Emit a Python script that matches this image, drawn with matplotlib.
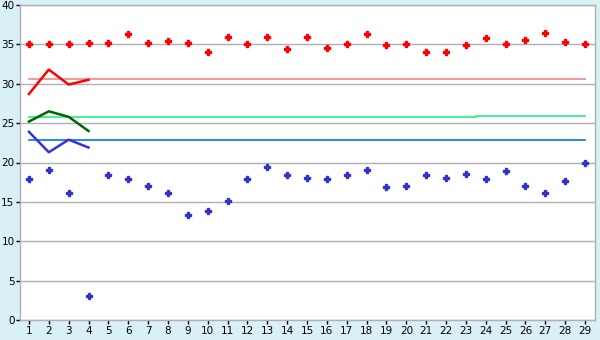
import numpy as np
import matplotlib
matplotlib.use('Agg')
import matplotlib.pyplot as plt

# Tage 1..29
days = list(range(1, 30))

# obere Punktreihe (rot)
red_points = [35.0, 35.0, 35.1, 35.2, 35.2, 36.3, 35.2, 35.4, 35.2, 34.0,
              36.0, 35.0, 36.0, 34.4, 36.0, 34.6, 35.0, 36.3, 34.9, 35.0,
              34.0, 34.0, 34.9, 35.8, 35.1, 35.5, 36.4, 35.3, 35.0]

# untere Punktreihe (blau)
blue_points = [17.9, 19.0, 16.1, 3.0, 18.4, 17.9, 17.0, 16.1, 13.3, 13.9,
               15.1, 17.9, 19.4, 18.4, 18.0, 17.9, 18.4, 19.0, 16.9, 17.0,
               18.4, 18.0, 18.5, 17.9, 18.9, 17.0, 16.1, 17.7, 20.0]

# kurze Linien über die ersten 4 Tage
line_days = [1, 2, 3, 4]
red_line = [28.7, 31.8, 29.9, 30.5]
green_line = [25.2, 26.5, 25.8, 24.0]
blue_line = [23.9, 21.3, 22.9, 21.9]

# waagrechte Referenzlinien
ref_red_x = [1, 29]
ref_red_y = [30.6, 30.6]
ref_green_x = [1, 23.5, 23.5, 29]
ref_green_y = [25.75, 25.75, 25.9, 25.9]
ref_blue_x = [1, 29]
ref_blue_y = [22.8, 22.8]

bg = '#d8f0f6'
grid_col = '#b0b0b0'

fig = plt.figure(figsize=(6, 3.4), dpi=100, facecolor=bg)
ax = fig.add_axes([20 / 600, 20 / 340, 575 / 600, 315 / 340])
ax.set_facecolor('white')

for v in range(0, 41, 5):
    ax.axhline(v, color=grid_col, lw=1, zorder=1)

ax.plot(ref_red_x, ref_red_y, color='#f08888', lw=1.2, zorder=2)
ax.plot(ref_green_x, ref_green_y, color='#20f080', lw=1.2, zorder=2)
ax.plot(ref_blue_x, ref_blue_y, color='#0070ff', lw=1.2, zorder=2)

ax.plot(line_days, red_line, color='#ff0000', lw=1.8, zorder=3)
ax.plot(line_days, green_line, color='#006400', lw=1.8, zorder=3)
ax.plot(line_days, blue_line, color='#3333dd', lw=1.8, zorder=3)

ax.plot(days, red_points, ls='none', marker='P', ms=4, color='#ff0000',
        mec='#ff0000', zorder=4)
ax.plot(days, blue_points, ls='none', marker='P', ms=4, color='#3333cc',
        mec='#3333cc', zorder=4)

ax.set_xlim(0.55, 29.5)
ax.set_ylim(0, 40)
ax.set_xticks(days)
ax.set_yticks(range(0, 41, 5))
ax.tick_params(axis='both', direction='out', length=3, width=1,
               color='black', labelsize=7.5, pad=1)
for s in ax.spines.values():
    s.set_color(grid_col)
    s.set_linewidth(1)

fig.savefig('out.png', dpi=100, facecolor=bg)
